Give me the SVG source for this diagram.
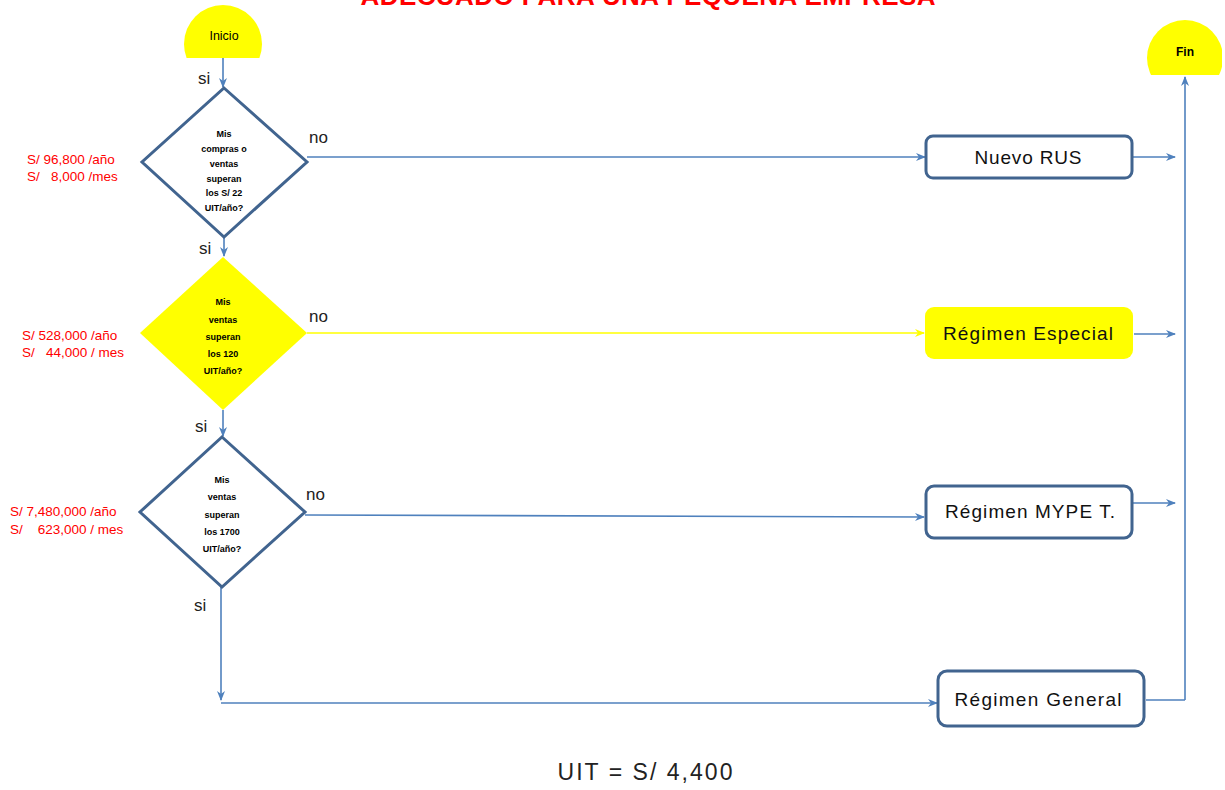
<svg xmlns="http://www.w3.org/2000/svg" width="1225" height="790" viewBox="0 0 1225 790">
<style>
.ln{stroke:#4f81bd;stroke-width:1.6;fill:none}
.lny{stroke:#ffff00;stroke-width:1.6;fill:none}
.box{fill:#fff;stroke:#41648f;stroke-width:3}
.lbl{font-family:"Liberation Sans",Arial,sans-serif;font-size:19px;fill:#111;text-anchor:middle;dominant-baseline:central}
.q{font-family:"Liberation Sans",Arial,sans-serif;font-size:9px;font-weight:bold;fill:#000;text-anchor:middle;dominant-baseline:central}
.red{font-family:"Liberation Sans",Arial,sans-serif;font-size:13.5px;fill:#ff0000}
.sn{font-family:"Liberation Sans",Arial,sans-serif;font-size:17px;fill:#222}
</style>
<defs>
<marker id="ab" markerWidth="10" markerHeight="8" refX="9" refY="4" orient="auto" markerUnits="userSpaceOnUse">
<path d="M0,0 L10,4 L0,8 L3,4 Z" fill="#4f81bd"/>
</marker>
<marker id="ay" markerWidth="10" markerHeight="8" refX="9" refY="4" orient="auto" markerUnits="userSpaceOnUse">
<path d="M0,0 L10,4 L0,8 L3,4 Z" fill="#ffff00"/>
</marker>
<clipPath id="cI"><rect x="150" y="0" width="150" height="58"/></clipPath>
<clipPath id="cF"><rect x="1130" y="0" width="92" height="75"/></clipPath>
</defs>
<rect width="1225" height="790" fill="#fff"/>
<text x="648" y="5" font-family="Liberation Sans,Arial,sans-serif" font-size="26" font-weight="bold" fill="#ff0000" text-anchor="middle" textLength="575" lengthAdjust="spacing">ADECUADO PARA UNA PEQUEÑA EMPRESA</text>

<g id="connectors">
<line class="ln" x1="223" y1="58" x2="223" y2="87" marker-end="url(#ab)"/>
<line class="ln" x1="224" y1="237" x2="224" y2="256" marker-end="url(#ab)"/>
<line class="ln" x1="223" y1="410" x2="223" y2="436" marker-end="url(#ab)"/>
<line class="ln" x1="221" y1="587" x2="221" y2="700" marker-end="url(#ab)"/>
<line class="ln" x1="221" y1="703" x2="937" y2="703" marker-end="url(#ab)"/>
<line class="ln" x1="307" y1="157" x2="925" y2="157" marker-end="url(#ab)"/>
<line class="lny" x1="307" y1="333" x2="924" y2="333" marker-end="url(#ay)"/>
<line class="ln" x1="305" y1="515" x2="924" y2="517" marker-end="url(#ab)"/>
<line class="ln" x1="1133" y1="157" x2="1175" y2="157" marker-end="url(#ab)"/>
<line class="ln" x1="1134" y1="334" x2="1175" y2="334" marker-end="url(#ab)"/>
<line class="ln" x1="1133" y1="503" x2="1175" y2="503" marker-end="url(#ab)"/>
<path class="ln" d="M1146,700 H1185"/>
<line class="ln" x1="1185" y1="700" x2="1185" y2="77" marker-end="url(#ab)"/>
<text class="sn" x="198" y="84">si</text>
<text class="sn" x="199" y="254">si</text>
<text class="sn" x="195" y="432">si</text>
<text class="sn" x="194" y="611">si</text>
<text class="sn" x="309" y="143">no</text>
<text class="sn" x="309" y="322">no</text>
<text class="sn" x="306" y="500">no</text>
</g>

<g id="inicio">
<circle cx="223" cy="44" r="39" fill="#ffff00" clip-path="url(#cI)"/>
<text x="224" y="36" font-family="Liberation Sans,Arial,sans-serif" font-size="12.5" fill="#000" text-anchor="middle" dominant-baseline="central">Inicio</text>
</g>

<g id="fin">
<circle cx="1185" cy="58" r="38" fill="#ffff00" clip-path="url(#cF)"/>
<text x="1185" y="52" font-family="Liberation Sans,Arial,sans-serif" font-size="12" font-weight="bold" fill="#000" text-anchor="middle" dominant-baseline="central">Fin</text>
</g>

<g id="decision1">
<polygon points="224,88 307,162 224,237 142,162" fill="#fff" stroke="#41648f" stroke-width="3"/>
<text class="q" x="224" y="134">Mis</text>
<text class="q" x="224" y="149">compras o</text>
<text class="q" x="224" y="164">ventas</text>
<text class="q" x="224" y="179">superan</text>
<text class="q" x="224" y="193">los S/ 22</text>
<text class="q" x="224" y="208">UIT/año?</text>
<text class="red" x="27" y="164">S/ 96,800 /año</text>
<text class="red" x="27" y="181" xml:space="preserve">S/   8,000 /mes</text>
</g>

<g id="decision2">
<polygon points="223,257 307,333 223,410 140,333" fill="#ffff00"/>
<text class="q" x="223" y="302" font-size="10">Mis</text>
<text class="q" x="223" y="320" font-size="10">ventas</text>
<text class="q" x="223" y="337" font-size="10">superan</text>
<text class="q" x="223" y="354" font-size="10">los 120</text>
<text class="q" x="223" y="371" font-size="10">UIT/año?</text>
<text class="red" x="22" y="340">S/ 528,000 /año</text>
<text class="red" x="22" y="357" xml:space="preserve">S/   44,000 / mes</text>
</g>

<g id="decision3">
<polygon points="222,437 305,512 222,587 140,512" fill="#fff" stroke="#41648f" stroke-width="3"/>
<text class="q" x="222" y="480" font-size="9.5">Mis</text>
<text class="q" x="222" y="497" font-size="9.5">ventas</text>
<text class="q" x="222" y="515" font-size="9.5">superan</text>
<text class="q" x="222" y="532" font-size="9.5">los 1700</text>
<text class="q" x="222" y="549" font-size="9.5">UIT/año?</text>
<text class="red" x="10" y="516">S/ 7,480,000  /año</text>
<text class="red" x="10" y="534" xml:space="preserve">S/    623,000 / mes</text>
</g>

<g id="nuevo-rus">
<rect class="box" x="926" y="136" width="206" height="42" rx="7"/>
<text class="lbl" x="1028" y="157" textLength="107" lengthAdjust="spacing">Nuevo RUS</text>
</g>

<g id="regimen-especial">
<rect x="925" y="307" width="208" height="52" rx="9" fill="#ffff00"/>
<text class="lbl" x="1028" y="333" textLength="170" lengthAdjust="spacing">Régimen Especial</text>
</g>

<g id="regimen-mype">
<rect class="box" x="926" y="486" width="206" height="52" rx="8"/>
<text class="lbl" x="1030" y="511" textLength="170" lengthAdjust="spacing">Régimen MYPE T.</text>
</g>

<g id="regimen-general">
<rect class="box" x="938" y="671" width="206" height="55" rx="9"/>
<text class="lbl" x="1038" y="699" textLength="167" lengthAdjust="spacing">Régimen General</text>
</g>

<text x="645" y="772" font-family="Liberation Sans,Arial,sans-serif" font-size="23" fill="#222" text-anchor="middle" dominant-baseline="central" textLength="175" lengthAdjust="spacing">UIT = S/ 4,400</text>
</svg>
